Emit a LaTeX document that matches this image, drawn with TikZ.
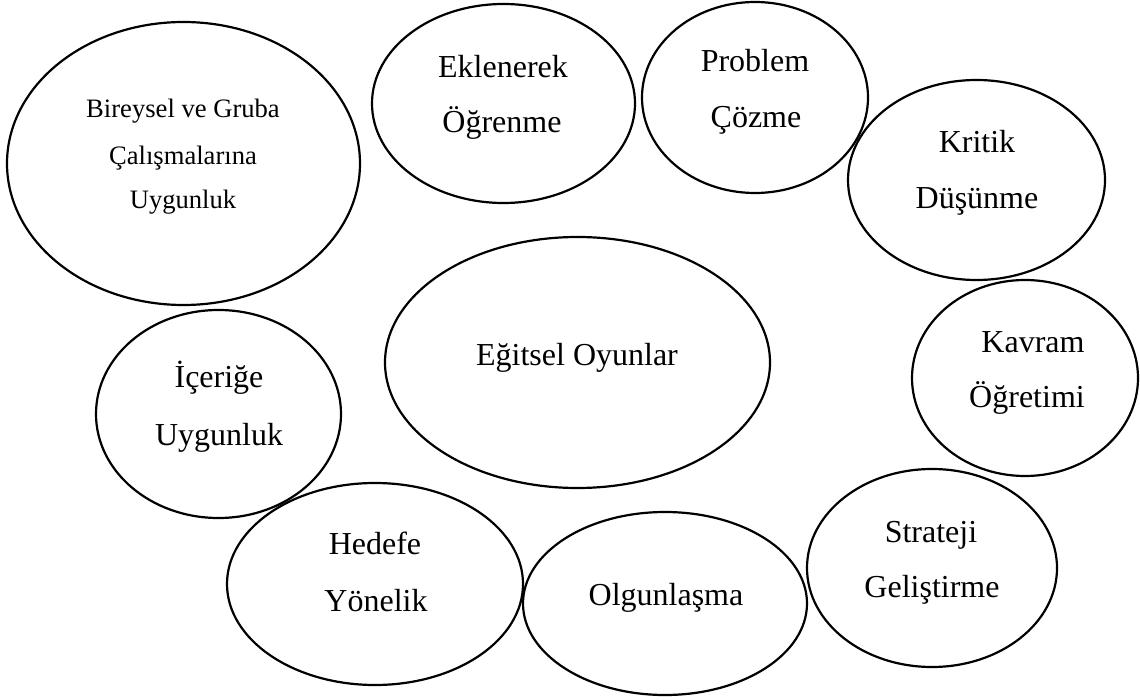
\documentclass[tikz,border=0pt]{standalone}
\usepackage{fontspec}
\setmainfont{Liberation Serif}
\usetikzlibrary{shapes.geometric}
\begin{document}
\begin{tikzpicture}[x=0.5pt,y=-0.5pt,
  halka/.style={draw,ellipse,line width=1.1pt,inner sep=0pt},
  yazi/.style={anchor=base,inner sep=0pt,font=\fontsize{16}{19}\selectfont}]
\useasboundingbox (0,0) rectangle (1140,700);
% halkalar
\node[halka,minimum width=176.5pt,minimum height=141.5pt] (birey) at (183.5,163.5) {};
\node[halka,minimum width=131.5pt,minimum height=99.5pt] (eklen) at (503.5,103.5) {};
\node[halka,minimum width=113pt,minimum height=95.5pt] (problem) at (755,97.5) {};
\node[halka,minimum width=128.5pt,minimum height=100pt] (kritik) at (976.5,180) {};
\node[halka,minimum width=192.5pt,minimum height=125.5pt] (oyun) at (577.5,362.5) {};
\node[halka,minimum width=122.5pt,minimum height=104pt] (icerik) at (218.5,414) {};
\node[halka,minimum width=113pt,minimum height=98pt] (kavram) at (1025,378) {};
\node[halka,minimum width=148pt,minimum height=101pt] (hedef) at (375,584) {};
\node[halka,minimum width=142pt,minimum height=91.5pt] (olgun) at (665,603.5) {};
\node[halka,minimum width=125pt,minimum height=99pt] (strateji) at (932,568) {};
% yazilar
\node[yazi,font=\fontsize{13.3}{16}\selectfont] (birey1) at (183,118) {Bireysel ve Gruba};
\node[yazi,font=\fontsize{13.3}{16}\selectfont] (birey2) at (183,164.5) {Çalışmalarına};
\node[yazi,font=\fontsize{13.3}{16}\selectfont] (birey3) at (183,209) {Uygunluk};
\node[yazi] (eklen1) at (503,78) {Eklenerek};
\node[yazi] (eklen2) at (502,133) {Öğrenme};
\node[yazi] (problem1) at (755,72) {Problem};
\node[yazi] (problem2) at (756,128) {Çözme};
\node[yazi] (kritik1) at (977,153) {Kritik};
\node[yazi] (kritik2) at (977,209) {Düşünme};
\node[yazi] (oyun1) at (577,365) {Eğitsel Oyunlar};
\node[yazi] (icerik1) at (219,387) {İçeriğe};
\node[yazi] (icerik2) at (219,445) {Uygunluk};
\node[yazi] (kavram1) at (1033,352) {Kavram};
\node[yazi] (kavram2) at (1027,407) {Öğretimi};
\node[yazi] (hedef1) at (375,554) {Hedefe};
\node[yazi] (hedef2) at (376,611) {Yönelik};
\node[yazi] (olgun1) at (666,605) {Olgunlaşma};
\node[yazi] (strateji1) at (931,542) {Strateji};
\node[yazi] (strateji2) at (932,597) {Geliştirme};
\end{tikzpicture}
\end{document}
